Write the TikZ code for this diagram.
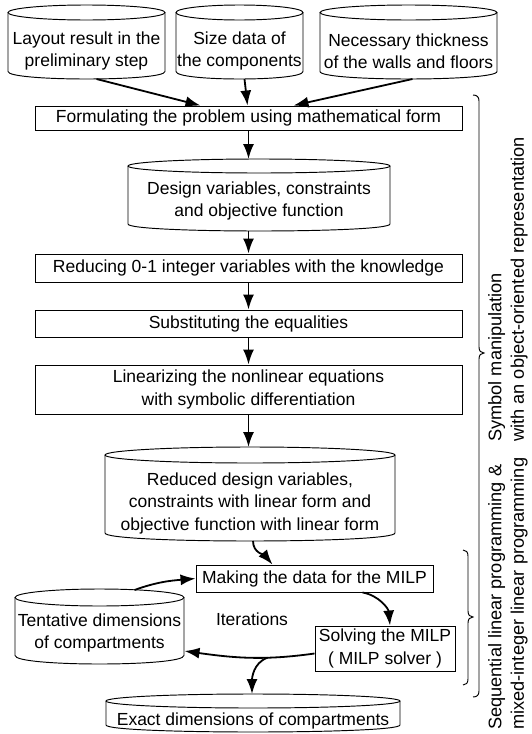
\documentclass[tikz,border=0pt]{standalone}
\usepackage{fontspec}
\setmainfont{Liberation Sans}
\usetikzlibrary{arrows.meta,calc}
\newcommand\mydrum[5]{%
  \draw[outline] ({(#1+#2)/2},{#3+#5}) ellipse[x radius={(#2-#1)/2}, y radius={#5}];
  \draw[outline] (#1,{#3+#5}) -- (#1,{#4-#5}) .. controls (#1,{#4+#5/3}) and (#2,{#4+#5/3}) .. (#2,{#4-#5}) -- (#2,{#3+#5});
}
\begin{document}
\begin{tikzpicture}[x=1pt,y=-1pt,
  every node/.style={font=\fontsize{17.5}{22.5}\selectfont, inner sep=0pt, align=center},
  box/.style={draw, line width=0.95pt},
  outline/.style={line width=0.95pt},
  sidelabel/.style={rotate=90, anchor=west, align=left, font=\fontsize{18.2}{22.5}\selectfont},
  arr/.style={line width=1.8pt, -{Latex[length=15pt,width=11pt]}}]
\useasboundingbox (0,0) rectangle (531,734);

% top data cylinders
\node (c1) at (86.5,51) {Layout result in the\\preliminary step};
\mydrum{8}{165}{5}{79}{7.5}
\node (c2) at (239.5,51) {Size data of\\the components};
\mydrum{176}{303}{5}{79}{7.5}
\node (c3) at (408.5,51) {Necessary thickness\\of the walls and floors};
\mydrum{320}{497}{5}{79}{7.5}

\node[box, minimum width=427pt, minimum height=24pt] (form) at (248.5,118) {Formulating the problem using mathematical form};
\node (design) at (259,201) {Design variables, constraints\\and objective function};
\mydrum{128}{390}{159}{231}{7}
\node[box, minimum width=427pt, minimum height=28pt] (reduc) at (248.5,268) {Reducing 0-1 integer variables with the knowledge};
\node[box, minimum width=427pt, minimum height=27pt] (subst) at (248.5,323.5) {Substituting the equalities};
\node[box, minimum width=427pt, minimum height=49pt] (lin) at (248.5,389.5) {Linearizing the nonlinear equations\\with symbolic differentiation};
\node (reduced) at (250,503) {Reduced design variables,\\constraints with linear form and\\objective function with linear form};
\mydrum{105}{395}{447}{541}{8}
\node[box, minimum width=237pt, minimum height=27pt] (making) at (314.5,578.5) {Making the data for the MILP};
\node (tent) at (99.5,633) {Tentative dimensions\\of compartments};
\mydrum{15}{184}{589}{664}{8.5}
\node (iter) at (252,619) {Iterations};
\node[box, minimum width=140pt, minimum height=45pt] (solving) at (385,648.5) {Solving the MILP\\( MILP solver )};
\node (exact) at (253,721) {Exact dimensions of compartments};
\mydrum{106}{400}{694}{732}{7}

% side labels
\node[sidelabel] (lab1) at (508,442) {Symbol manipulation\\with an object-oriented representation};
\node[sidelabel] (lab2) at (508,730) {Sequential linear programming \&\\mixed-integer linear programming};

% braces
\draw[outline] (473,95) .. controls (477,95) and (479,97) .. (479,101) -- (479,347) .. controls (479,351) and (481,353) .. (484,353) .. controls (481,353) and (479,355) .. (479,359) -- (479,691) .. controls (479,695) and (477,697) .. (473,697);
\draw[outline] (463,550) .. controls (466,550) and (468,552) .. (468,556) -- (468,611) .. controls (468,615) and (470,617) .. (473,617) .. controls (470,617) and (468,619) .. (468,623) -- (468,679) .. controls (468,683) and (466,685) .. (463,685);

% connectors
\draw[arr] ($(c1)+(10,28)$) -- ($(form.north)+(-48,0)$);
\draw[arr] ($(c2)+(5,28)$) -- ($(form.north)+(-1,0)$);
\draw[arr] ($(c3)+(4,28)$) -- ($(form.north)+(45,0)$);
\draw[arr] (form.south) -- ($(design)+(-10.5,-42)$);
\draw[arr] ($(design)+(-10.5,30)$) -- (reduc.north);
\draw[arr] (reduc.south) -- (subst.north);
\draw[arr] (subst.south) -- (lin.north);
\draw[arr] (lin.south) -- ($(reduced)+(-1.5,-56)$);
\draw[arr] ($(reduced)+(3,38)$) to[out=-90,in=130] ($(making.north)+(-42,0)$);
\draw[arr] ($(tent)+(35,-43)$) to[out=20,in=185] (making.west);
\draw[arr] ($(making.south)+(48,0)$) to[out=-10,in=95] ($(solving.north)+(5,0)$);
\draw[arr] ($(solving.west)+(0,5)$) to[out=188,in=-8] coordinate[pos=0.35] (br) ($(tent)+(85,18)$);
\draw[arr] (br) to[out=200,in=90] ($(exact)+(-1,-27)$);
\end{tikzpicture}
\end{document}
